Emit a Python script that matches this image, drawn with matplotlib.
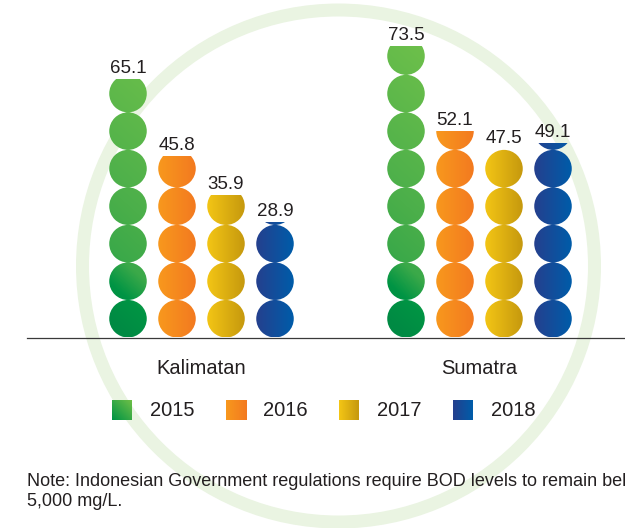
import numpy as np
import matplotlib
matplotlib.use("Agg")
import matplotlib.pyplot as plt
from matplotlib.patches import Circle, Ellipse
from matplotlib.path import Path
from matplotlib.colors import LinearSegmentedColormap

plt.rcParams['font.family'] = ['Liberation Sans', 'DejaVu Sans']

# --- data ---
regions = ["Kalimatan", "Sumatra"]
years = ["2015", "2016", "2017", "2018"]
kalimatan = [65.1, 45.8, 35.9, 28.9]
sumatra = [73.5, 52.1, 47.5, 49.1]
note_lines = ["Note: Indonesian Government regulations require BOD levels to remain below",
              "5,000 mg/L."]

UNIT = 9.5  # value represented by one circle

# --- colours ---
green = LinearSegmentedColormap.from_list(
    "g", [(0, "#008A43"), (1.0/8, "#009444"), (1.9/8, "#3BA949"),
          (3.5/8, "#4BAF4A"), (1, "#6CBF4B")])
orange = LinearSegmentedColormap.from_list("o", ["#F8981D", "#F37A20"])
yellow = LinearSegmentedColormap.from_list("y", ["#F3C515", "#C6990E"])
blue = LinearSegmentedColormap.from_list("b", ["#24408E", "#005CA9"])
cmaps = [green, orange, yellow, blue]
TXT = "#231F20"


def bar_image(idx, value, nx=40, ny=300):
    xx, yy = np.meshgrid(np.linspace(0, 1, nx), np.linspace(0, value, ny))
    if idx == 0:
        u = yy / UNIT + 0.9 * (xx - 0.5)
        return cmaps[0](np.clip(u / 8, 0, 1))
    return cmaps[idx](xx)


W, H, DPI = 625, 528, 100
fig = plt.figure(figsize=(W / DPI, H / DPI), dpi=DPI)

# background ring (pixel coords)
bg = fig.add_axes([0, 0, 1, 1], zorder=0)
bg.set_xlim(0, W)
bg.set_ylim(H, 0)
bg.axis('off')
bg.add_patch(Circle((338.5, 266), 256, fill=False, lw=13 * 72 / DPI, ec="#EAF4E2"))

# main axes, mapped so circles stay round
ax = fig.add_axes([0, 0, 1, 1], zorder=1)
ax.patch.set_alpha(0)
base_px = 337.5
ppy = 3.95
grp_px = (201.5, 479.5)
ppx = grp_px[1] - grp_px[0]
ylim = (-(H - base_px) / ppy, base_px / ppy)
xlim = (-grp_px[0] / ppx, (W - grp_px[0]) / ppx)
step = 49 / ppx
diam_x = UNIT * ppy / ppx

for g, vals in enumerate([kalimatan, sumatra]):
    for i, v in enumerate(vals):
        x = g + (i - 1.5) * step
        paths = []
        for k in range(int(np.ceil(v / UNIT))):
            e = Ellipse((x, UNIT * (k + 0.5)), diam_x, UNIT)
            paths.append(e.get_path().transformed(e.get_patch_transform()))
        clip = Path.make_compound_path(*paths)
        im = ax.imshow(bar_image(i, v), extent=(x - diam_x / 2, x + diam_x / 2, 0, v),
                       origin='lower', aspect='auto', interpolation='bilinear')
        im.set_clip_path(clip, ax.transData)
        ax.text(x, v + 7 / ppy, f"{v}", ha='center', va='baseline',
                fontsize=13.5, color=TXT)
    ax.text(g, -(374 - base_px) / ppy, regions[g], ha='center', va='baseline',
            fontsize=14.5, color=TXT)

ax.axhline(0, xmin=27 / W, xmax=1, color='#3a3a3a', lw=0.9)
ax.set_xlim(*xlim)
ax.set_ylim(*ylim)
ax.axis('off')

# legend
for i, yr in enumerate(years):
    left = 112 + i * 113.5
    lax = fig.add_axes([left / W, 1 - 420 / H, 20 / W, 20 / H], zorder=2)
    xx, yy = np.meshgrid(np.linspace(0, 1, 20), np.linspace(0, 1, 20))
    if i == 0:
        img = LinearSegmentedColormap.from_list("gl", ["#009444", "#6CBE47"])(np.clip((xx + yy) / 2, 0, 1))
    else:
        img = cmaps[i](xx)
    lax.imshow(img, origin='lower', aspect='auto', extent=(0, 1, 0, 1))
    lax.axis('off')
    fig.text((left + 38) / W, 1 - 411 / H, yr, ha='left', va='center',
             fontsize=14.5, color=TXT, zorder=3)

# note (cut at the right edge, as in the source layout)
for j, line in enumerate(note_lines):
    fig.text(27 / W, 1 - (481.5 + 20 * j) / H, line, ha='left', va='center',
             fontsize=13, color=TXT, zorder=3)

fig.savefig("out.png", dpi=DPI)
